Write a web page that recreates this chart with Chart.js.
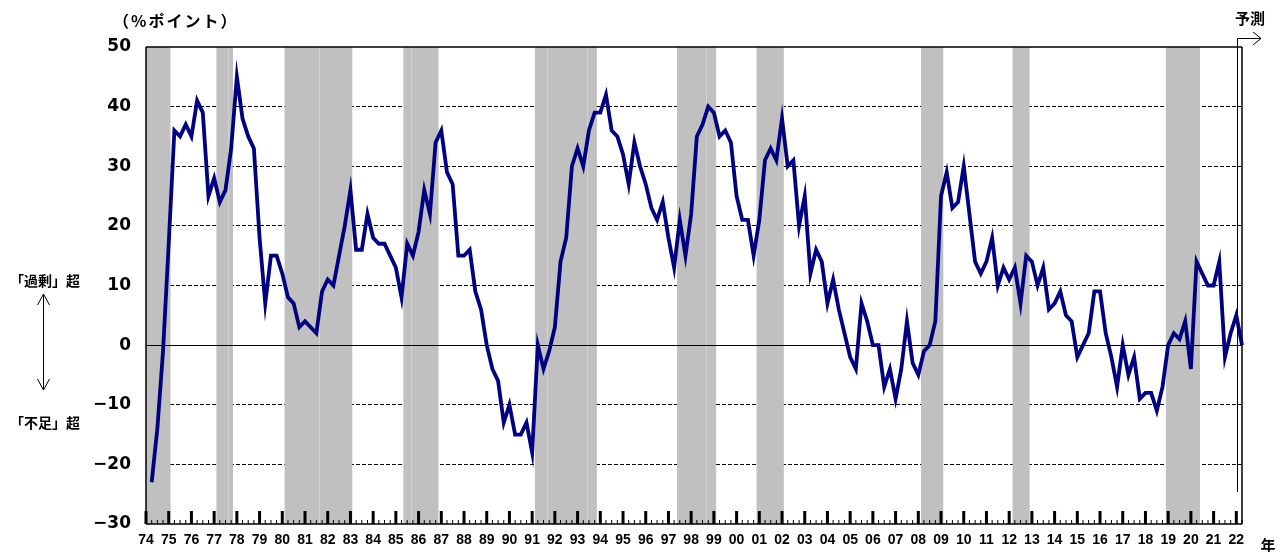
<!DOCTYPE html>
<html>
<head>
<meta charset="utf-8">
<script src="https://cdn.jsdelivr.net/npm/chart.js@4.4.1/dist/chart.umd.min.js"></script>
<style>
  html, body { margin: 0; padding: 0; background: #ffffff; }
  #wrap { width: 1281px; height: 552px; position: relative; }
</style>
</head>
<body>
<div id="wrap"><canvas id="c" width="1281" height="552"></canvas></div>
<script>
// ---- data ----
const yearLabels = ['74','75','76','77','78','79','80','81','82','83','84','85','86','87','88','89','90','91','92','93','94','95','96','97','98','99','00','01','02','03','04','05','06','07','08','09','10','11','12','13','14','15','16','17','18','19','20','21','22'];
const quarterNames = ['Q1','Q2','Q3','Q4'];
const lastQuarterCount = 2; // 2022 runs to Q2 (forecast)

// quarterly DI, 1974Q1 .. 2022Q2 (first quarter has no value; last is forecast)
const diValues = [
  null, -23, -14,  -1,   // 74
    17,  36,  35,  37,   // 75
    35,  41,  39,  25,   // 76
    28,  24,  26,  33,   // 77
    45,  38,  35,  33,   // 78
    18,   7,  15,  15,   // 79
    12,   8,   7,   3,   // 80
     4,   3,   2,   9,   // 81
    11,  10,  15,  20,   // 82
    26,  16,  16,  22,   // 83
    18,  17,  17,  15,   // 84
    13,   8,  17,  15,   // 85
    19,  26,  22,  34,   // 86
    36,  29,  27,  15,   // 87
    15,  16,   9,   6,   // 88
     0,  -4,  -6, -13,   // 89
   -10, -15, -15, -13,   // 90
   -18,   0,  -4,  -1,   // 91
     3,  14,  18,  30,   // 92
    33,  30,  36,  39,   // 93
    39,  42,  36,  35,   // 94
    32,  27,  34,  30,   // 95
    27,  23,  21,  24,   // 96
    18,  13,  21,  15,   // 97
    22,  35,  37,  40,   // 98
    39,  35,  36,  34,   // 99
    25,  21,  21,  15,   // 00
    21,  31,  33,  31,   // 01
    38,  30,  31,  20,   // 02
    25,  12,  16,  14,   // 03
     7,  11,   6,   2,   // 04
    -2,  -4,   7,   4,   // 05
     0,   0,  -7,  -4,   // 06
    -9,  -4,   4,  -3,   // 07
    -5,  -1,   0,   4,   // 08
    25,  29,  23,  24,   // 09
    30,  22,  14,  12,   // 10
    14,  18,  10,  13,   // 11
    11,  13,   7,  15,   // 12
    14,  10,  13,   6,   // 13
     7,   9,   5,   4,   // 14
    -2,   0,   2,   9,   // 15
     9,   2,  -2,  -7,   // 16
     0,  -5,  -2,  -9,   // 17
    -8,  -8, -11,  -7,   // 18
     0,   2,   1,   4,   // 19
    -4,  14,  12,  10,   // 20
    10,  14,  -2,   2,   // 21
     5,   0              // 22
];

// recession shading periods, in fractional calendar years
const recessionStart = [1973.90, 1977.10, 1980.10, 1985.33, 1991.12, 1997.38, 2000.88, 2008.12, 2012.15, 2018.90];
const recessionEnd   = [1975.08, 1977.83, 1983.08, 1986.88, 1993.85, 1999.10, 2002.08, 2009.10, 2012.90, 2020.40];
// faint seams visible inside some shaded periods
const recessionSeams = [1977.60, 1981.63, 1985.68, 1991.65, 1993.40, 1998.65];

const forecastStart = 2022.0;   // forecast marker position
const yMin = -30, yMax = 50, yStep = 10;

// categories
const categories = [];
yearLabels.forEach((y, yi) => {
  const n = (yi === yearLabels.length - 1) ? lastQuarterCount : 4;
  for (let q = 0; q < n; q++) categories.push(y + quarterNames[q]);
});
const firstYear = 1974;
const yearToIndex = (yr) => (yr - firstYear) * 4;

// ---- plugin: shading, axes, ticks, annotations ----
const decor = {
  id: 'decor',
  beforeDatasetsDraw(chart) {
    const {ctx, chartArea: a, scales: {x, y}} = chart;
    ctx.save();
    ctx.beginPath();
    ctx.rect(a.left, a.top, a.right - a.left, a.bottom - a.top);
    ctx.clip();
    ctx.fillStyle = '#c0c0c0';
    for (let k = 0; k < recessionStart.length; k++) {
      const x0 = x.getPixelForValue(yearToIndex(recessionStart[k]));
      const x1 = x.getPixelForValue(yearToIndex(recessionEnd[k]));
      ctx.fillRect(x0, a.top, x1 - x0, a.bottom - a.top);
    }
    ctx.strokeStyle = '#d2d2d2';
    ctx.lineWidth = 1;
    recessionSeams.forEach(s => {
      const xs = Math.round(x.getPixelForValue(yearToIndex(s))) + 0.5;
      ctx.beginPath(); ctx.moveTo(xs, a.top); ctx.lineTo(xs, a.bottom); ctx.stroke();
    });
    ctx.restore();

    ctx.save();
    // zero line
    const y0 = Math.round(y.getPixelForValue(0)) + 0.5;
    ctx.strokeStyle = '#000'; ctx.lineWidth = 1;
    ctx.beginPath(); ctx.moveTo(a.left, y0); ctx.lineTo(a.right, y0); ctx.stroke();
    // frame
    ctx.lineWidth = 1.5;
    ctx.beginPath();
    ctx.moveTo(a.left, a.top); ctx.lineTo(a.right, a.top);
    ctx.moveTo(a.left, a.top); ctx.lineTo(a.left, a.bottom);
    ctx.moveTo(a.left, a.bottom); ctx.lineTo(a.right, a.bottom);
    ctx.moveTo(a.right, a.top); ctx.lineTo(a.right, a.bottom);
    ctx.stroke();
    // x ticks (inside)
    ctx.fillStyle = '#000';
    for (let i = 0; i < categories.length; i++) {
      const px = x.getPixelForValue(i);
      if (i % 4 === 0) ctx.fillRect(px - 1.5, a.bottom - 13, 3, 13);
      else ctx.fillRect(px - 0.5, a.bottom - 4, 1, 4);
    }
    ctx.restore();
  },
  afterDraw(chart) {
    const {ctx, chartArea: a, scales: {x}} = chart;
    ctx.save();
    ctx.fillStyle = '#000';
    ctx.textBaseline = 'middle';
    const jp = '"Noto Sans CJK JP", "Noto Sans", sans-serif';
    ctx.font = 'bold 16px ' + jp;
    ctx.textAlign = 'left';
    if ('letterSpacing' in ctx) ctx.letterSpacing = '2px';
    ctx.fillText('（%ポイント）', 113, 21);
    if ('letterSpacing' in ctx) ctx.letterSpacing = '0px';
    ctx.font = 'bold 15px ' + jp;
    ctx.textAlign = 'center';
    ctx.fillText('予測', 1250, 18);
    ctx.fillText('年', 1268, 545);
    ctx.font = 'bold 14px ' + jp;
    ctx.fillText('「過剰」超', 45, 281);
    ctx.fillText('「不足」超', 45, 423);
    // double arrow
    ctx.strokeStyle = '#000'; ctx.lineWidth = 1;
    const ax = 43.5, at = 294, ab = 390;
    ctx.beginPath();
    ctx.moveTo(ax, at); ctx.lineTo(ax, ab);
    ctx.moveTo(ax - 6, at + 11); ctx.lineTo(ax, at); ctx.lineTo(ax + 6, at + 11);
    ctx.moveTo(ax - 6, ab - 11); ctx.lineTo(ax, ab); ctx.lineTo(ax + 6, ab - 11);
    ctx.stroke();
    // forecast marker
    const fx = Math.round(x.getPixelForValue(yearToIndex(forecastStart))) + 1.5;
    ctx.beginPath();
    ctx.moveTo(fx, 492); ctx.lineTo(fx, 38.5); ctx.lineTo(1261, 38.5);
    ctx.moveTo(1253, 32); ctx.lineTo(1261, 38.5); ctx.lineTo(1253, 45);
    ctx.stroke();
    ctx.restore();
  }
};

new Chart(document.getElementById('c'), {
  type: 'line',
  data: {
    labels: categories,
    datasets: [{
      data: diValues,
      borderColor: '#000080',
      borderWidth: 3.8,
      pointRadius: 0,
      tension: 0,
      fill: false
    }]
  },
  options: {
    responsive: false,
    animation: false,
    devicePixelRatio: 1,
    layout: { padding: { left: 0, right: 39, top: 47, bottom: 0 } },
    plugins: { legend: { display: false }, tooltip: { enabled: false } },
    scales: {
      x: {
        type: 'category',
        offset: false,
        grid: { display: false, drawTicks: false },
        border: { display: false },
        ticks: {
          autoSkip: false, maxRotation: 0, minRotation: 0, padding: 8,
          color: '#000',
          font: { family: '"Liberation Sans", Arial, sans-serif', size: 14, weight: 'bold' },
          callback: (v, i) => (i % 4 === 0 ? yearLabels[i / 4] : '')
        },
        afterFit: (s) => { s.height = 28; }
      },
      y: {
        min: yMin, max: yMax,
        grid: {
          drawTicks: false,
          lineWidth: 1,
          color: (c) => (c.tick && (c.tick.value === 0 || c.tick.value === yMax || c.tick.value === yMin)) ? 'rgba(0,0,0,0)' : '#000'
        },
        border: { display: false, dash: [4, 2] },
        ticks: {
          stepSize: yStep, padding: 15, color: '#000',
          font: { family: '"DejaVu Sans", sans-serif', size: 17, weight: 'bold' },
          callback: (v) => (v < 0 ? '−' + Math.abs(v) : String(v))
        },
        afterFit: (s) => { s.width = 146; }
      }
    }
  },
  plugins: [decor]
});
</script>
</body>
</html>
